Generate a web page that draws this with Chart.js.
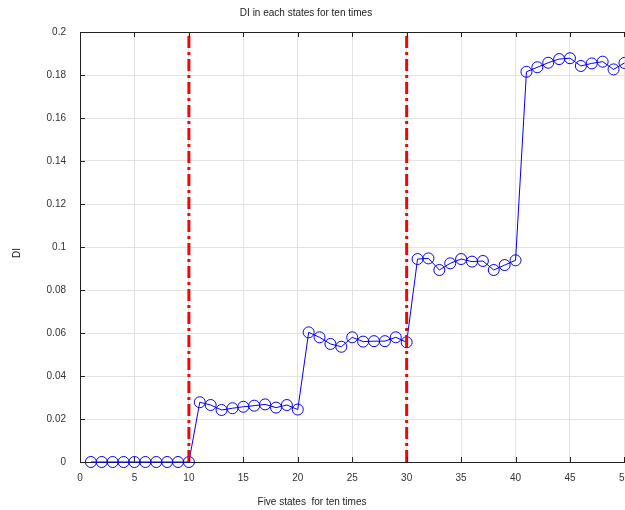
<!DOCTYPE html>
<html lang="en">
	<head>
		<meta charset="UTF-8" />
		<title>DI in each states for ten times</title>
		<style>
			body {
				background: #fff;
				margin: 0;
				padding: 0;
				overflow: hidden;
			}
			#wrap {
				width: 640px;
				height: 510px;
			}
		</style>
		<script src="https://cdn.jsdelivr.net/npm/chart.js"></script>
	</head>
	<body>
		<div id="wrap"><canvas id="chart" width="640" height="510"></canvas></div>
		<script>
			const chartTitle = "DI in each states for ten times";
			const xTitle = "Five states  for ten times";
			const yTitle = "DI";

			const runs = [
				1, 2, 3, 4, 5, 6, 7, 8, 9, 10,
				11, 12, 13, 14, 15, 16, 17, 18, 19, 20,
				21, 22, 23, 24, 25, 26, 27, 28, 29, 30,
				31, 32, 33, 34, 35, 36, 37, 38, 39, 40,
				41, 42, 43, 44, 45, 46, 47, 48, 49, 50,
			];
			const diValues = [
				0, 0, 0, 0, 0, 0, 0, 0, 0, 0,
				0.0278, 0.0265, 0.0242, 0.025, 0.0257, 0.0262, 0.0268, 0.0253, 0.0265, 0.0244,
				0.0603, 0.058, 0.0549, 0.0536, 0.058, 0.056, 0.0562, 0.0562, 0.058, 0.0557,
				0.0944, 0.0947, 0.0893, 0.0924, 0.0944, 0.0932, 0.0935, 0.0893, 0.0916, 0.0938,
				0.1815, 0.1836, 0.1857, 0.1874, 0.1878, 0.1842, 0.1854, 0.1862, 0.1826, 0.1856,
			];
			// state boundaries (red dash-dot lines)
			const splitX = [10, 30];
			const xRange = [0, 50];
			const yRange = [0, 0.2];

			const font = "'Liberation Sans', Arial, sans-serif";

			const splitSets = splitX.map((x) => ({
				data: [
					{ x: x, y: yRange[0] },
					{ x: x, y: yRange[1] },
				],
				borderColor: "#ff0000",
				borderWidth: 3,
				borderDash: [12, 4, 3, 4],
				pointRadius: 0,
				order: 0,
			}));

			const frame = {
				id: "frame",
				afterDraw(chart) {
					const { ctx, chartArea: a, scales } = chart;
					ctx.save();
					ctx.strokeStyle = "#222";
					ctx.lineWidth = 1;
					ctx.beginPath();
					ctx.moveTo(a.left, a.top + 0.5);
					ctx.lineTo(a.right, a.top + 0.5);
					// inward tick marks
					scales.x.ticks.forEach((t) => {
						const px = Math.round(scales.x.getPixelForValue(t.value)) + 0.5;
						ctx.moveTo(px, a.bottom);
						ctx.lineTo(px, a.bottom - 5);
						ctx.moveTo(px, a.top);
						ctx.lineTo(px, a.top + 5);
					});
					scales.y.ticks.forEach((t) => {
						const py = Math.round(scales.y.getPixelForValue(t.value)) + 0.5;
						ctx.moveTo(a.left, py);
						ctx.lineTo(a.left + 5, py);
					});
					ctx.stroke();

					ctx.fillStyle = "#222";
					ctx.font = "10px " + font;
					ctx.textAlign = "center";
					ctx.textBaseline = "middle";
					ctx.fillText(chartTitle, 306, 13);
					ctx.fillText(xTitle, 312, 502);
					ctx.translate(17, 253);
					ctx.rotate(-Math.PI / 2);
					ctx.fillText(yTitle, 0, 0);
					ctx.restore();
				},
			};

			new Chart(document.getElementById("chart"), {
				type: "line",
				data: {
					datasets: [
						...splitSets,
						{
							data: runs.map((x, i) => ({ x: x, y: diValues[i] })),
							borderColor: "#0000ff",
							borderWidth: 1,
							pointStyle: "circle",
							pointRadius: 5.5,
							pointBorderColor: "#0000ff",
							pointBackgroundColor: "rgba(255,255,255,0)",
							pointBorderWidth: 1,
							tension: 0,
							order: 1,
						},
					],
				},
				options: {
					responsive: false,
					animation: false,
					clip: false,
					layout: {
						padding: { top: 32, right: 11, left: 0, bottom: 0 },
					},
					plugins: {
						legend: { display: false },
						tooltip: { enabled: false },
					},
					scales: {
						x: {
							type: "linear",
							min: xRange[0],
							max: xRange[1],
							afterFit(scale) {
								scale.height = 48;
							},
							border: { color: "#222", width: 1 },
							grid: { color: "#e3e3e3", drawTicks: false },
							ticks: {
								stepSize: 5,
								padding: 10,
								color: "#333",
								font: { family: font, size: 10 },
								maxRotation: 0,
							},
						},
						y: {
							min: yRange[0],
							max: yRange[1],
							afterFit(scale) {
								scale.width = 80;
							},
							border: { color: "#222", width: 1 },
							grid: { color: "#e3e3e3", drawTicks: false },
							ticks: {
								stepSize: 0.02,
								padding: 14,
								color: "#333",
								font: { family: font, size: 10 },
								callback: (v) => String(Number(v.toFixed(2))),
							},
						},
					},
				},
				plugins: [frame],
			});
		</script>
	</body>
</html>
